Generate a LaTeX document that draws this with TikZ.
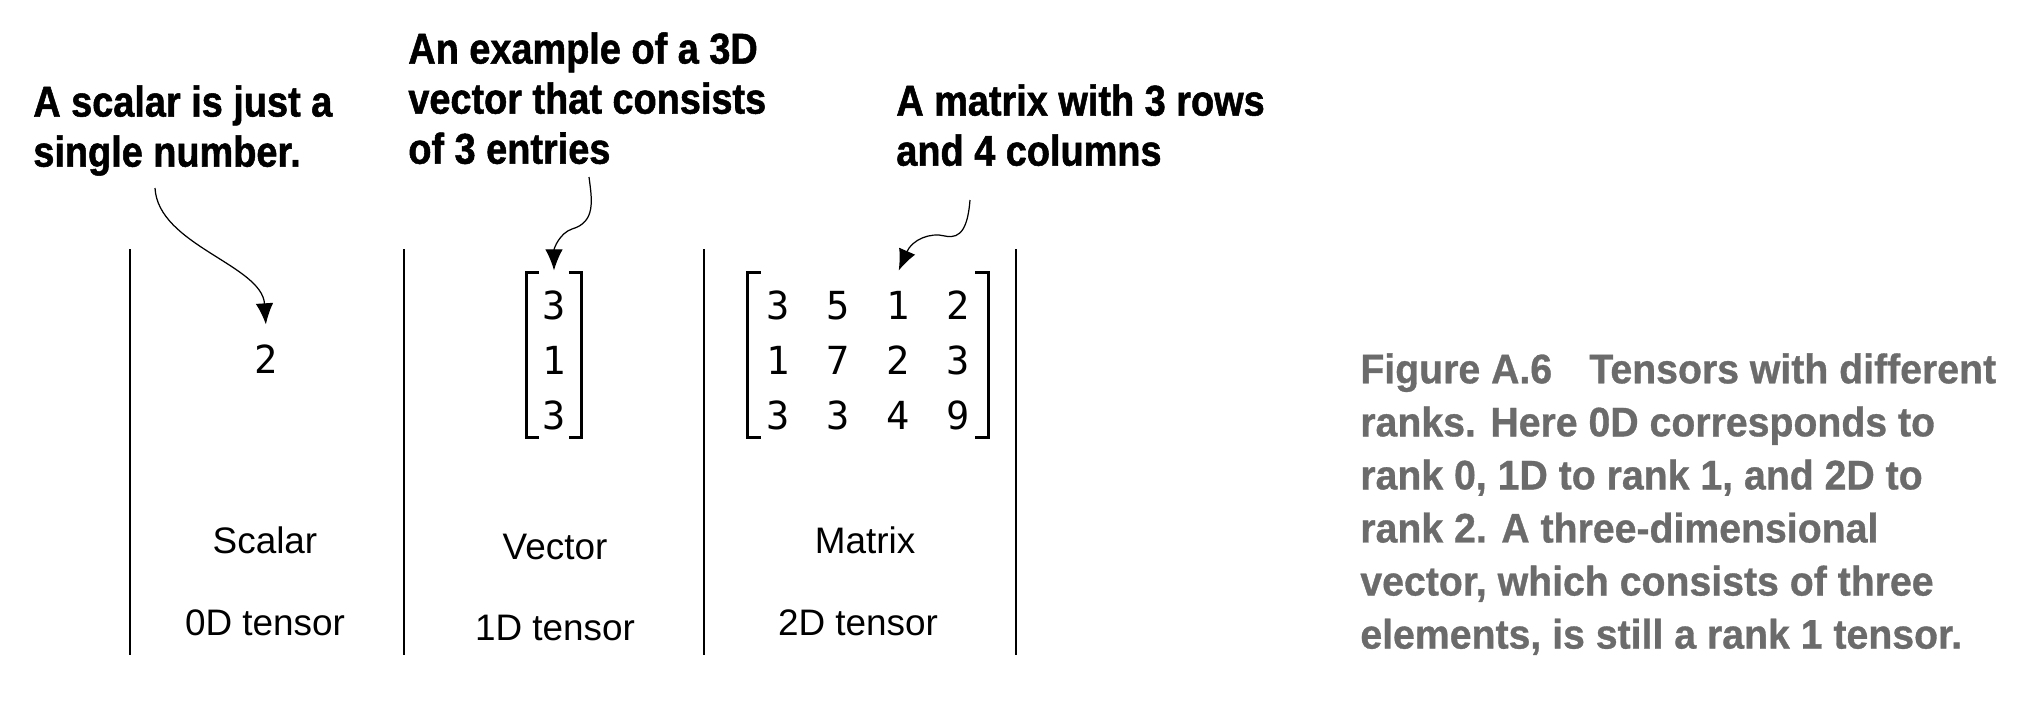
\documentclass[tikz,border=0pt]{standalone}
\usepackage{fontspec}
\setmainfont{Liberation Sans}
\setmonofont{DejaVu Sans Mono}
\newfontfamily\notefont{Liberation Sans}[FakeStretch=0.88, FakeBold=1.2]
\newfontfamily\capfont{Liberation Sans}[FakeStretch=0.95, FakeBold=0.8]
\usepackage{xcolor}
\usetikzlibrary{matrix,arrows.meta}
\definecolor{capgray}{HTML}{6B6B6B}
\tikzset{
sep line/.style={line width=1.1pt},
note/.style={anchor=north west, inner sep=0pt, align=left, font=\notefont\bfseries\fontsize{24.5}{28.5}\selectfont},
entry/.style={inner sep=0pt, minimum width=1.1cm, minimum height=1.1cm, text height=22pt, text depth=0pt, font=\ttfamily\fontsize{22}{24}\selectfont},
kind/.style={inner sep=0pt, font=\fontsize{21}{25}\selectfont},
pointer/.style={-{Latex[length=12pt,width=10pt]}, line width=0.7pt, shorten >=1pt},
brk/.style={line width=1.6pt}
}
\tikzset{ampersand replacement = \amp}
\newcommand{\amp}{&}

\begin{document}
\begin{tikzpicture}[x=0.02cm, y=-0.02cm]
  \useasboundingbox (0,0) rectangle (2044,700);
  \foreach \x in {130,404,704,1016}
    \draw[sep line] (\x,249) -- (\x,655);
  % annotations
  \node[note] (scalarnote) at (33,85) {A scalar is just a\\single number.};
  \node[note] (vectornote) at (408,32) {An example of a 3D\\vector that consists\\of 3 entries};
  \node[note] (matrixnote) at (896,84) {A matrix with 3 rows\\and 4 columns};
  \coordinate (scalarfrom) at (155,188);
  \coordinate (vectorfrom) at (589,177);
  \coordinate (matrixfrom) at (970,200);
  % the tensors
  \node[entry] (two) at (266,354) {2};
  \matrix (vec) at (554,355) [matrix of nodes, inner sep=0pt, nodes={entry}] {3 \\ 1 \\ 3 \\};
  \matrix (mat) at (868,355) [matrix of nodes, inner sep=0pt, nodes={entry, minimum width=1.2cm}]
    {3 \amp 5 \amp 1 \amp 2 \\ 1 \amp 7 \amp 2 \amp 3 \\ 3 \amp 3 \amp 4 \amp 9 \\};
  \foreach \m in {vec,mat} {
    \draw[brk] (\m.north west) ++(13,0) -- (\m.north west) -- (\m.south west) -- ++(13,0);
    \draw[brk] (\m.north east) ++(-13,0) -- (\m.north east) -- (\m.south east) -- ++(-13,0);
  }
  \node[kind] (scalarname) at (265,540) {Scalar};
  \node[kind] (scalarrank) at (265,623) {0D tensor};
  \node[kind] (vectorname) at (555,547) {Vector};
  \node[kind] (vectorrank) at (555,628) {1D tensor};
  \node[kind] (matrixname) at (865,540) {Matrix};
  \node[kind] (matrixrank) at (858,623) {2D tensor};
  % pointers
  \draw[pointer] (scalarfrom) .. controls (158,245) and (262,265) .. (two.north);
  \draw[pointer] (vectorfrom) .. controls (592,200) and (596,222) .. (572,229)
    .. controls (560,233) and (554,248) .. (vec.north);
  \draw[pointer] (matrixfrom) .. controls (968,225) and (962,240) .. (945,236)
    .. controls (930,232) and (912,240) .. (mat-1-3.north);
  % caption
  \node[anchor=north west, inner sep=0pt, align=left, text=capgray,
    font=\capfont\bfseries\fontsize{23.5}{30.2}\selectfont] (caption) at (1360,353)
    {Figure A.6\hspace{0.9em}Tensors with different\\ranks. Here 0D corresponds to\\rank 0, 1D to rank 1, and 2D to\\rank 2. A three-dimensional\\vector, which consists of three\\elements, is still a rank 1 tensor.};
\end{tikzpicture}
\end{document}
